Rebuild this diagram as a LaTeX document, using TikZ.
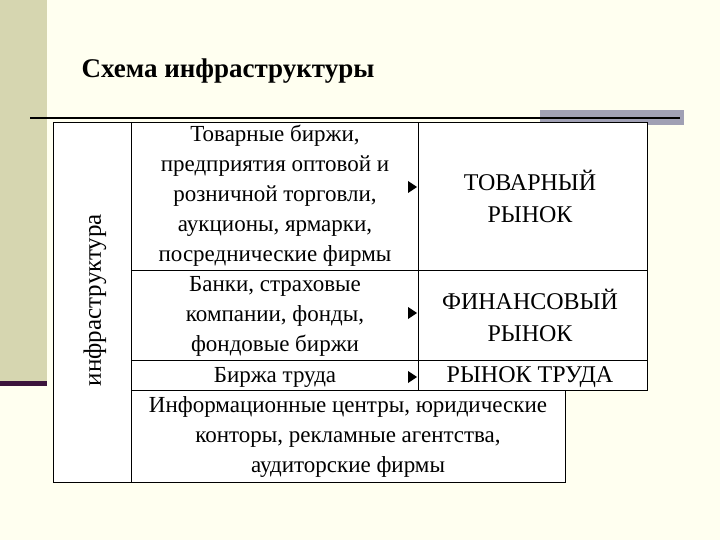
\documentclass[tikz,border=0pt]{standalone}
\usepackage{fontspec}
\setmainfont{Liberation Serif}
\begin{document}
\begin{tikzpicture}[x=1pt,y=-1pt,
  cell/.style={align=center,font=\fontsize{23}{30}\selectfont,inner sep=0pt},
  big/.style={align=center,font=\fontsize{24}{32}\selectfont,inner sep=0pt},
  tip/.style={fill=black,draw=none}]
\useasboundingbox (0,0) rectangle (720,540);
\fill[fill={rgb,255:red,255;green,255;blue,240}] (0,0) rectangle (720,540);
\fill[fill={rgb,255:red,214;green,214;blue,176}] (0,0) rectangle (47,383);
\fill[fill={rgb,255:red,60;green,20;blue,60}] (0,381) rectangle (47,386);
\fill[fill={rgb,255:red,160;green,160;blue,180}] (540,110) rectangle (684,125);
\draw[line width=1.5pt] (30,118) -- (680,118);
\node[anchor=west,font=\fontsize{27}{30}\selectfont\bfseries] (title) at (78,71) {Схема инфраструктуры};
% table
\draw[line width=1pt,fill=white] (53,123) rectangle (647,390);
\draw[line width=1pt,fill=white] (53,123) rectangle (131,482);
\draw[line width=1pt,fill=white] (131,390) rectangle (565,482);
\draw[line width=1pt] (131,123) -- (131,390);
\draw[line width=1pt] (418,123) -- (418,390);
\draw[line width=1pt] (131,270) -- (647,270);
\draw[line width=1pt] (131,360) -- (647,360);
\node[cell,rotate=90,font=\fontsize{25}{30}\selectfont] (infra) at (95,300) {инфраструктура};
\node[cell] (c1) at (275,196) {Товарные биржи,\\предприятия оптовой и\\розничной торговли,\\аукционы, ярмарки,\\посреднические фирмы};
\node[big] (m1) at (530,196) {ТОВАРНЫЙ\\РЫНОК};
\node[cell] (c2) at (275,316) {Банки, страховые\\компании, фонды,\\фондовые биржи};
\node[big] (m2) at (530,315) {ФИНАНСОВЫЙ\\РЫНОК};
\node[cell] (c3) at (275,377) {Биржа труда};
\node[big] (m3) at (530,377) {РЫНОК ТРУДА};
\node[cell] (c4) at (348,437) {Информационные центры, юридические\\конторы, рекламные агентства,\\аудиторские фирмы};
\foreach \y/\n in {187/a1,313/a2,377/a3}{
  \coordinate (\n) at (417,\y);
  \fill[tip] (\n) -- ++(-9,-6) -- ++(0,12) -- cycle;
}
\end{tikzpicture}
\end{document}
